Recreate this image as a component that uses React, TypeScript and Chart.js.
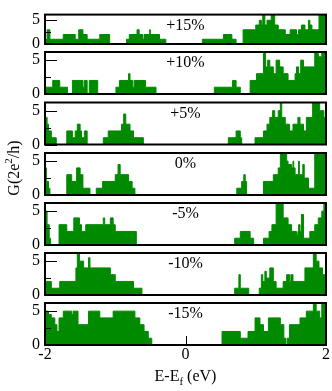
import React, { useEffect, useRef } from 'react';
import { Chart, registerables } from 'chart.js';

Chart.register(...registerables);

// ---- data ----
const X_TICKS = [-2, 0, 2];
const Y_TICKS = [0, 2.5, 5];
const Y_LABELED = [0, 5];
const PANEL_LABELS = ['+15%', '+10%', '+5%', '0%', '-5%', '-10%', '-15%'];

const E_P15 = [-2.0, -1.97, -1.93, -1.74, -1.57, -1.52, -1.46, -1.40, -1.22, -1.08, -0.84, -0.80, -0.69, -0.66, -0.61, -0.59, -0.51, -0.50, -0.37, -0.28, 0.24, 0.54, 0.66, 0.72, 0.82, 1.00, 1.05, 1.08, 1.10, 1.13, 1.16, 1.22, 1.27, 1.32, 1.42, 1.49, 1.58, 1.61, 1.65, 1.70, 1.75, 1.77, 1.80, 1.90];
const G_P15 = [1, 3, 1, 2, 1, 3, 2, 1, 2, 0, 1, 2, 3, 2, 1, 2, 3, 2, 1, 0, 1, 2, 1, 0, 3, 4, 5, 4, 6.5, 4, 5, 6.5, 4, 3, 2, 3, 2, 3, 4, 3, 5, 4, 3, 6.5];

const E_P10 = [-2.0, -1.89, -1.79, -1.68, -1.61, -1.46, -1.44, -1.40, -1.37, -1.25, -0.99, -0.94, -0.81, -0.79, -0.75, -0.73, -0.57, -0.42, 0.41, 0.67, 0.72, 0.78, 0.92, 1.01, 1.11, 1.14, 1.17, 1.20, 1.25, 1.29, 1.34, 1.39, 1.46, 1.56, 1.58, 1.61, 1.64, 1.68, 1.84, 1.89, 1.94];
const G_P10 = [1, 2, 1, 0, 2, 1, 2, 0, 2, 0, 1, 2, 3, 2, 1, 2, 1, 0, 1, 2, 1, 0, 2, 3, 6, 4, 5, 4, 3, 5, 4, 3, 2, 3, 4, 3, 5, 4, 6.5, 5.5, 6.5];

const E_P5 = [-2.0, -1.97, -1.95, -1.91, -1.84, -1.69, -1.61, -1.57, -1.54, -1.50, -1.48, -1.44, -1.40, -1.17, -1.10, -0.91, -0.88, -0.85, -0.79, -0.74, -0.60, 0.61, 0.72, 0.78, 0.80, 0.99, 1.11, 1.16, 1.20, 1.24, 1.27, 1.32, 1.35, 1.37, 1.42, 1.48, 1.53, 1.60, 1.63, 1.68, 1.72, 1.81, 1.91, 1.97];
const G_P5 = [4, 3, 2, 1, 0, 2, 1, 2, 3, 2, 1, 2, 0, 1, 2, 3, 4.5, 3, 2, 1, 0, 1, 2, 1, 0, 1, 2, 3, 4, 5, 4, 5, 6.5, 4, 3, 2, 3, 4, 3, 2, 4, 6.5, 5, 4];

const E_0 = [-2.0, -1.98, -1.95, -1.93, -1.69, -1.62, -1.55, -1.50, -1.46, -1.36, -1.27, -1.18, -1.00, -0.96, -0.93, -0.81, -0.76, -0.72, 0.73, 0.80, 0.83, 0.85, 0.87, 1.11, 1.25, 1.32, 1.35, 1.44, 1.46, 1.51, 1.53, 1.54, 1.56, 1.61, 1.62, 1.67, 1.69, 1.75, 1.84];
const G_0 = [4, 2, 1, 0, 3, 2, 4, 3, 1, 0, 1, 2, 3, 4.5, 3, 2, 1, 0, 1, 2, 3, 2, 0, 2, 3, 4, 6.5, 5, 4.5, 4, 5, 4, 3, 5, 3, 4.5, 2.5, 1, 6.5];

const E_M5 = [-2.0, -1.97, -1.94, -1.92, -1.80, -1.69, -1.59, -1.51, -1.48, -1.42, -1.17, -1.15, -1.07, -1.03, -1.00, -0.70, 0.70, 0.78, 0.92, 0.97, 1.11, 1.19, 1.23, 1.29, 1.39, 1.46, 1.51, 1.58, 1.60, 1.61, 1.63, 1.65, 1.68, 1.77, 1.84, 1.89, 1.94, 1.97];
const G_M5 = [5, 3, 1, 0, 3, 2, 4, 3, 2, 3, 4, 3, 4, 3, 2, 0, 1, 2, 1, 0, 1, 2, 3, 6.5, 4, 3, 2, 1.5, 2, 3, 2, 4.5, 1, 2, 3, 4, 5, 6.5];

const E_M10 = [-2.0, -1.91, -1.79, -1.56, -1.54, -1.51, -1.45, -1.38, -1.36, -1.07, -1.00, -0.74, -0.62, 0.70, 0.76, 0.78, 0.90, 1.05, 1.08, 1.10, 1.13, 1.15, 1.20, 1.25, 1.29, 1.39, 1.44, 1.48, 1.50, 1.53, 1.70, 1.82, 1.86, 1.90, 1.95];
const G_M10 = [2, 1, 2, 4, 6.5, 5, 4, 5.5, 4, 3, 2, 1, 0, 1, 3, 1, 0, 1, 3, 2, 3.5, 2.5, 4, 2, 1, 2, 3, 2, 3, 2, 4, 6.5, 5, 4, 3];

const E_M15 = [-2.0, -1.95, -1.91, -1.86, -1.83, -1.80, -1.74, -1.62, -1.60, -1.53, -1.38, -1.22, -1.03, -0.72, -0.65, -0.59, -0.53, -0.48, 0.52, 0.78, 0.89, 0.99, 1.06, 1.11, 1.18, 1.35, 1.40, 1.43, 1.45, 1.48, 1.63, 1.72, 1.82, 1.86, 1.91, 1.94];
const G_M15 = [5, 4.5, 4, 3, 2, 4, 5, 4.5, 5, 3, 5, 4, 5, 4, 3, 2, 1, 0, 2, 1, 2, 4, 3, 2, 4, 3, 1, 0, 1, 3, 4, 5, 6.5, 5, 4, 6.5];

const X_MIN = -2;
const X_MAX = 2;
const Y_MAX = 6.2;
const Y_TITLE_PARTS = ['G(2e', '2', '/h)'];
const X_TITLE_PARTS = ['E-E', 'f', ' (eV)'];

const SERIES_E = [E_P15, E_P10, E_P5, E_0, E_M5, E_M10, E_M15];
const SERIES_G = [G_P15, G_P10, G_P5, G_0, G_M5, G_M10, G_M15];

// ---- layout / style ----
const W = 332;
const H = 391;
const PANEL_TOPS = [2, 52, 102.5, 153, 203, 253, 303];
const PANEL_H = 42;
const GREEN = '#008a00';
const FAMILY = "'Liberation Serif', 'DejaVu Serif', serif";

function drawParts(ctx: CanvasRenderingContext2D, parts: { t: string; size: number; dy: number }[], cx: number, cy: number) {
  let total = 0;
  parts.forEach((p) => {
    ctx.font = `${p.size}px ${FAMILY}`;
    total += ctx.measureText(p.t).width;
  });
  let x = cx - total / 2;
  parts.forEach((p) => {
    ctx.font = `${p.size}px ${FAMILY}`;
    ctx.fillText(p.t, x, cy + p.dy);
    x += ctx.measureText(p.t).width;
  });
}

const framePlugin = {
  id: 'frame',
  afterDatasetsDraw(chart: any, _args: any, opts: any) {
    const { ctx, chartArea: a, scales } = chart;
    ctx.save();
    ctx.strokeStyle = '#000';
    ctx.lineWidth = 1;
    Y_TICKS.forEach((v) => {
      const y = Math.round(scales.y.getPixelForValue(v)) + 0.5;
      const len = Y_LABELED.includes(v) ? 12 : 6;
      ctx.beginPath();
      ctx.moveTo(a.left, y);
      ctx.lineTo(a.left + len, y);
      ctx.stroke();
    });
    if (opts.xTicks) {
      X_TICKS.forEach((v) => {
        const x = Math.round(scales.x.getPixelForValue(v)) + 0.5;
        ctx.beginPath();
        ctx.moveTo(x, a.bottom);
        ctx.lineTo(x, a.bottom - 9);
        ctx.stroke();
      });
    }
    ctx.lineWidth = 2;
    ctx.strokeRect(a.left, a.top, a.right - a.left, a.bottom - a.top);

    ctx.fillStyle = '#000';
    ctx.textAlign = 'left';
    ctx.textBaseline = 'alphabetic';
    drawParts(ctx, [{ t: opts.label, size: 16, dy: 0 }], (a.left + a.right) / 2, a.top + 15);

    if (opts.titles) {
      drawParts(
        ctx,
        [
          { t: X_TITLE_PARTS[0], size: 16, dy: 0 },
          { t: X_TITLE_PARTS[1], size: 11, dy: 4 },
          { t: X_TITLE_PARTS[2], size: 16, dy: 0 },
        ],
        (a.left + a.right) / 2,
        381
      );
      ctx.save();
      ctx.translate(19, 168);
      ctx.rotate(-Math.PI / 2);
      drawParts(
        ctx,
        [
          { t: Y_TITLE_PARTS[0], size: 16, dy: 0 },
          { t: Y_TITLE_PARTS[1], size: 11, dy: -7 },
          { t: Y_TITLE_PARTS[2], size: 16, dy: 0 },
        ],
        0,
        0
      );
      ctx.restore();
    }
    ctx.restore();
  },
};

function makeConfig(i: number): any {
  const E = SERIES_E[i];
  const G = SERIES_G[i];
  const pts = E.map((x, k) => ({ x, y: G[k] }));
  pts.push({ x: X_MAX, y: G[G.length - 1] });
  const isLast = i === PANEL_TOPS.length - 1;
  const top = PANEL_TOPS[i];
  const bottom = top + PANEL_H;
  const font = { family: FAMILY, size: 16 };
  return {
    type: 'line',
    data: {
      datasets: [
        {
          data: pts,
          stepped: 'before',
          fill: 'origin',
          backgroundColor: GREEN,
          borderColor: GREEN,
          borderWidth: 1,
          pointRadius: 0,
        },
      ],
    },
    options: {
      responsive: false,
      maintainAspectRatio: false,
      animation: false,
      events: [],
      layout: { padding: { top, bottom: isLast ? 0 : H - bottom, left: 0, right: 6 } },
      plugins: {
        legend: { display: false },
        tooltip: { enabled: false },
        frame: { label: PANEL_LABELS[i], xTicks: isLast, titles: isLast },
      },
      scales: {
        x: {
          type: 'linear',
          min: X_MIN,
          max: X_MAX,
          display: isLast,
          afterBuildTicks: (s: any) => {
            s.ticks = X_TICKS.map((v) => ({ value: v }));
          },
          afterFit: (s: any) => {
            s.height = isLast ? H - bottom : 0;
          },
          grid: { display: false, drawTicks: false },
          border: { display: false },
          ticks: { font, color: '#000', padding: 0, maxRotation: 0, autoSkip: false },
        },
        y: {
          type: 'linear',
          min: 0,
          max: Y_MAX,
          afterBuildTicks: (s: any) => {
            s.ticks = Y_TICKS.map((v) => ({ value: v }));
          },
          afterFit: (s: any) => {
            s.width = 45;
          },
          grid: { display: false, drawTicks: false },
          border: { display: false },
          ticks: {
            font,
            color: '#000',
            padding: 5,
            callback: (v: any) => (Y_LABELED.includes(Number(v)) ? String(v) : ''),
          },
        },
      },
    },
    plugins: [framePlugin],
  };
}

export default function App() {
  const refs = useRef<(HTMLCanvasElement | null)[]>([]);
  useEffect(() => {
    const charts = PANEL_TOPS.map((_, i) => new Chart(refs.current[i] as HTMLCanvasElement, makeConfig(i)));
    return () => charts.forEach((c) => c.destroy());
  }, []);
  return (
    <div style={{ position: 'fixed', left: 0, top: 0, width: W, height: H, background: '#fff' }}>
      {PANEL_TOPS.map((_, i) => (
        <canvas
          key={i}
          ref={(el) => {
            refs.current[i] = el;
          }}
          width={W}
          height={H}
          style={{ position: 'absolute', left: 0, top: 0 }}
        />
      ))}
    </div>
  );
}
